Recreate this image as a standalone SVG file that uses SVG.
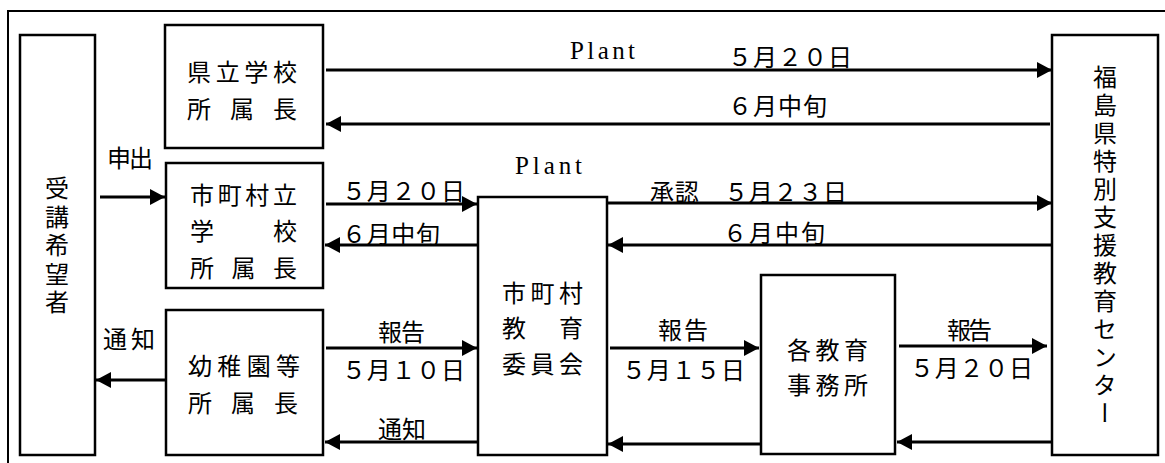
<svg xmlns="http://www.w3.org/2000/svg" width="1165" height="463" viewBox="0 0 1165 463">
<style>
.box{fill:#fff;stroke:#000;stroke-width:2.5}
.frame{fill:none;stroke:#000;stroke-width:2}
.c{fill:none;stroke:#000;stroke-width:3.2;marker-end:url(#ah)}
text{font-family:"Noto Sans CJK JP","Noto Sans CJK SC",sans-serif;font-size:24px;fill:#000;dominant-baseline:central}
.m{font-family:"Liberation Serif",serif;font-size:25px}
.v{writing-mode:vertical-rl;text-orientation:mixed}
</style>
<defs>
<marker id="ah" viewBox="0 0 15 16" refX="15" refY="8" markerWidth="15" markerHeight="16" markerUnits="userSpaceOnUse" orient="auto">
<path d="M0,0 L15,8 L0,16 Z" fill="#000"/>
</marker>
</defs>
<rect width="1165" height="463" fill="#fff"/>
<path class="frame" d="M8,463 V11 H1165"/>

<g id="applicant">
<rect class="box" x="20" y="35" width="75" height="420"/>
<text class="v" x="57" y="176" style="letter-spacing:4.5px">受講希望者</text>
</g>
<g id="prefschool">
<rect class="box" x="165" y="25" width="158" height="123"/>
<text x="187" y="70" textLength="110" lengthAdjust="spacing">県立学校</text>
<text x="187" y="107" textLength="110" lengthAdjust="spacing">所 属 長</text>
</g>
<g id="muni-school">
<rect class="box" x="166" y="163" width="157" height="125"/>
<text x="190" y="193" textLength="107" lengthAdjust="spacing">市町村立</text>
<text x="190" y="229" textLength="107" lengthAdjust="spacing">学 校</text>
<text x="190" y="266" textLength="107" lengthAdjust="spacing">所 属 長</text>
</g>
<g id="kindergarten">
<rect class="box" x="166" y="310" width="157" height="145"/>
<text x="188" y="364" textLength="112" lengthAdjust="spacing">幼稚園等</text>
<text x="188" y="401" textLength="110" lengthAdjust="spacing">所 属 長</text>
</g>
<g id="muni-board">
<rect class="box" x="478" y="197" width="129" height="258"/>
<text x="502" y="291" textLength="81" lengthAdjust="spacing">市町村</text>
<text x="502" y="326" textLength="81" lengthAdjust="spacing">教 育</text>
<text x="502" y="362" textLength="81" lengthAdjust="spacing">委員会</text>
</g>
<g id="office">
<rect class="box" x="761" y="275" width="134" height="179"/>
<text x="787" y="348" textLength="81" lengthAdjust="spacing">各教育</text>
<text x="787" y="383" textLength="81" lengthAdjust="spacing">事務所</text>
</g>
<g id="center">
<rect class="box" x="1052" y="35" width="106" height="420"/>
<text class="v" x="1105" y="65" style="letter-spacing:4px">福島県特別支援教育センター</text>
</g>

<g id="connectors">
<path class="c" d="M326,70 H1052"/>
<path class="c" d="M1050,124 H326"/>
<path class="c" d="M100,197 H165"/>
<path class="c" d="M326,204 H477"/>
<path class="c" d="M477,245 H325"/>
<path class="c" d="M607,203 H1052"/>
<path class="c" d="M1052,245 H608"/>
<path class="c" d="M326,348 H477"/>
<path class="c" d="M610,348 H759"/>
<path class="c" d="M899,346 H1047"/>
<path class="c" d="M1052,442 H897"/>
<path class="c" d="M761,444 H608"/>
<path class="c" d="M478,442 H325"/>
<path class="c" d="M165,380 H96"/>
</g>

<g id="labels">
<text class="m" x="570" y="50" textLength="65" lengthAdjust="spacing">Plant</text>
<text x="728" y="55" textLength="124" lengthAdjust="spacing">５月２０日</text>
<text x="728" y="104" textLength="99" lengthAdjust="spacing">６月中旬</text>
<text x="107" y="156" textLength="46" lengthAdjust="spacing">申出</text>
<text class="m" x="515" y="165" textLength="67" lengthAdjust="spacing">Plant</text>
<text x="342" y="189" textLength="123" lengthAdjust="spacing">５月２０日</text>
<text x="342" y="232" textLength="98" lengthAdjust="spacing">６月中旬</text>
<text x="650" y="190" textLength="197" lengthAdjust="spacing">承認　５月２３日</text>
<text x="723" y="231" textLength="102" lengthAdjust="spacing">６月中旬</text>
<text x="378" y="330" textLength="47" lengthAdjust="spacing">報告</text>
<text x="342" y="368" textLength="123" lengthAdjust="spacing">５月１０日</text>
<text x="658" y="328" textLength="50" lengthAdjust="spacing">報告</text>
<text x="622" y="368" textLength="123" lengthAdjust="spacing">５月１５日</text>
<text x="947" y="328" textLength="45" lengthAdjust="spacing">報告</text>
<text x="910" y="366" textLength="123" lengthAdjust="spacing">５月２０日</text>
<text x="103" y="337" textLength="52" lengthAdjust="spacing">通知</text>
<text x="378" y="427" textLength="48" lengthAdjust="spacing">通知</text>
</g>
</svg>
